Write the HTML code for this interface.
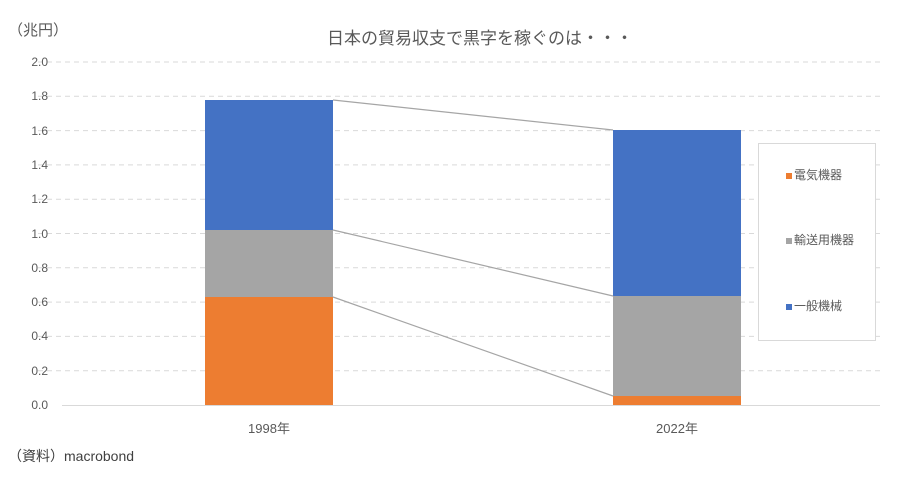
<!DOCTYPE html><html><head><meta charset="utf-8"><style>body{margin:0;background:#fff}</style></head><body>
<svg width="900" height="477" xmlns="http://www.w3.org/2000/svg" font-family="Liberation Sans, Noto Sans CJK JP, sans-serif">
<rect width="900" height="477" fill="#fff"/>
<text x="8" y="35" font-size="15" fill="#595959">（兆円）</text>
<text x="480" y="44" font-size="17" fill="#595959" text-anchor="middle">日本の貿易収支で黒字を稼ぐのは・・・</text>
<g stroke="#d9d9d9" stroke-dasharray="5,4" stroke-width="1">
<line x1="38" x2="880" y1="62" y2="62"/><line x1="38" x2="880" y1="96.3" y2="96.3"/><line x1="38" x2="880" y1="130.6" y2="130.6"/><line x1="38" x2="880" y1="164.9" y2="164.9"/><line x1="38" x2="880" y1="199.2" y2="199.2"/><line x1="38" x2="880" y1="233.5" y2="233.5"/><line x1="38" x2="880" y1="267.8" y2="267.8"/><line x1="38" x2="880" y1="302.1" y2="302.1"/><line x1="38" x2="880" y1="336.4" y2="336.4"/><line x1="38" x2="880" y1="370.7" y2="370.7"/>
</g>
<g font-size="12" fill="#595959" text-anchor="end">
<text x="48" y="66">2.0</text><text x="48" y="100">1.8</text><text x="48" y="135">1.6</text><text x="48" y="169">1.4</text><text x="48" y="203">1.2</text><text x="48" y="238">1.0</text><text x="48" y="272">0.8</text><text x="48" y="306">0.6</text><text x="48" y="340">0.4</text><text x="48" y="375">0.2</text><text x="48" y="409">0.0</text>
</g>
<rect x="205" y="100" width="128" height="130" fill="#4472c4"/>
<rect x="205" y="230" width="128" height="67" fill="#a5a5a5"/>
<rect x="205" y="297" width="128" height="108" fill="#ed7d31"/>
<rect x="613" y="130" width="128" height="166" fill="#4472c4"/>
<rect x="613" y="296" width="128" height="100" fill="#a5a5a5"/>
<rect x="613" y="396" width="128" height="9" fill="#ed7d31"/>
<g stroke="#a5a5a5" stroke-width="1.2">
<line x1="333" y1="100" x2="613" y2="130"/><line x1="333" y1="230" x2="613" y2="296"/><line x1="333" y1="297" x2="613" y2="396"/>
</g>
<line x1="62" x2="880" y1="405.5" y2="405.5" stroke="#d9d9d9"/>
<text x="269" y="433" font-size="13" fill="#595959" text-anchor="middle">1998年</text>
<text x="677" y="433" font-size="13" fill="#595959" text-anchor="middle">2022年</text>
<rect x="758.5" y="143.5" width="117" height="197" fill="#fff" stroke="#d9d9d9"/>
<g font-size="12" fill="#595959">
<rect x="786" y="173" width="6" height="6" fill="#ed7d31"/><text x="794" y="179">電気機器</text>
<rect x="786" y="238" width="6" height="6" fill="#a5a5a5"/><text x="794" y="244">輸送用機器</text>
<rect x="786" y="304" width="6" height="6" fill="#4472c4"/><text x="794" y="310">一般機械</text>
</g>
<text x="8" y="461" font-size="14" fill="#404040">（資料）macrobond</text>
</svg></body></html>
